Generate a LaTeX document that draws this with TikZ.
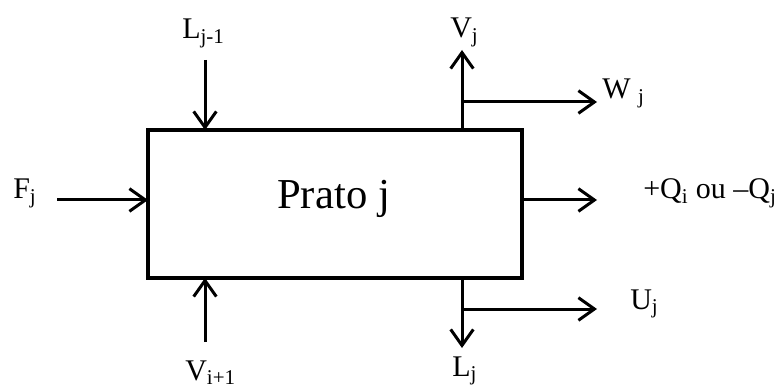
\documentclass[tikz,border=0pt]{standalone}
\usepackage{fontspec}
\setmainfont{Liberation Serif}
\usetikzlibrary{arrows.meta,positioning}

\begin{document}
\begin{tikzpicture}[x=0.75pt,y=-0.75pt,
plate/.style={draw,line width=3.4pt,minimum width=280.5pt,minimum height=111pt,inner sep=0pt,outer sep=0pt},
lbl/.style={font=\fontsize{22.5}{27}\selectfont,inner sep=0pt,anchor=base west},
arr/.style={-{Straight Barb[length=12pt,width=17pt]},line width=2.25pt}
]
\path[use as bounding box] (0,0) rectangle (781,388);
\node[plate] (prato) at (335,204) {};
\node[font=\fontsize{32}{38}\selectfont,inner sep=0pt,anchor=base west] (pratotxt) at (277,209) {Prato j};
% entradas
\coordinate (lintop) at (205,60);
\coordinate (fstart) at (57,200);
\coordinate (vbot) at (205,342);
\draw[arr] (lintop) -- (lintop |- prato.north);
\draw[arr] (fstart) -- (fstart -| prato.west);
\draw[arr] (vbot) -- (vbot |- prato.south);
% saidas
\coordinate (vtop) at (462,50);
\coordinate (wtip) at (597,102);
\coordinate (qtip) at (597,200);
\coordinate (lbot) at (462,348);
\coordinate (utip) at (597,309);
\draw[arr] (vtop |- prato.north) -- (vtop);
\draw[arr] (wtip -| vtop) -- (wtip);
\draw[arr] (qtip -| prato.east) -- (qtip);
\draw[arr] (lbot |- prato.south) -- (lbot);
\draw[arr] (utip -| lbot) -- (utip);
% rotulos
\node[lbl] (lin) at (182,39) {L\textsubscript{j-1}};
\node[lbl] (fin) at (13,199) {F\textsubscript{j}};
\node[lbl] (vin) at (185,380) {V\textsubscript{i+1}};
\node[lbl] (vout) at (450,38) {V\textsubscript{j}};
\node[lbl] (wout) at (602,99) {W \textsubscript{j}};
\node[lbl] (qout) at (643,199) {+Q\textsubscript{i} ou –Q\textsubscript{j}};
\node[lbl] (lout) at (452,376) {L\textsubscript{j}};
\node[lbl] (uout) at (630,309) {U\textsubscript{j}};
\end{tikzpicture}
\end{document}
